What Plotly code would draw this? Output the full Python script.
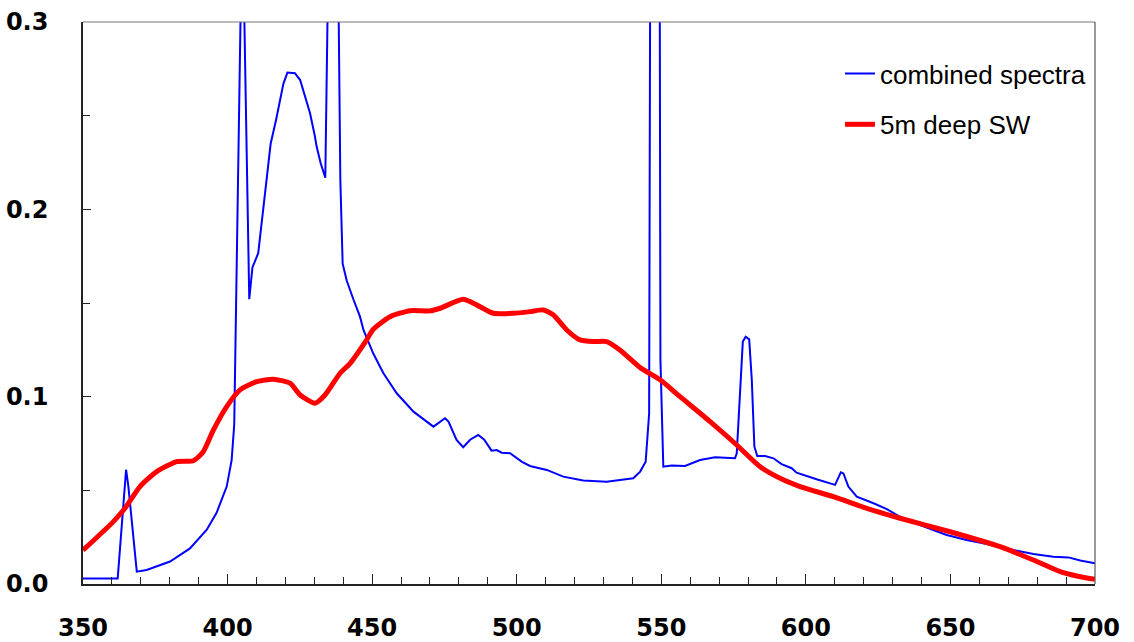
import plotly.graph_objects as go

# combined spectra (blue)
blue_x = [350, 362, 364.9, 365.7, 368.6, 372, 380.1, 387, 392.8, 396.2, 399.7, 401.4, 402.3,
          405.1, 407.5, 408.6, 410.6, 413.0, 414.9, 416.8, 419.3, 420.7, 423.3, 425.1, 427.4,
          428.5, 430.2, 430.8, 432.2, 433.8, 436.8, 439.0, 439.8, 441.2, 443.5, 445.8, 447.0,
          450.4, 453.9, 458.5, 464.3, 471.2, 475.2, 476.4, 479.2, 481.5, 483.9, 486.7, 488.7,
          491.3, 493.1, 494.8, 497.7, 501.7, 504.6, 510.4, 516.1, 523.0, 531.1, 536.9, 540.3,
          542.7, 544.6, 545.8, 546.5, 549.2, 549.7, 550.7, 553.6, 558.2, 563.4, 568.6, 575.5,
          576.1, 578.2, 579.2, 580.4, 581.3, 582.2, 583.2, 585.9, 588.8, 591.6, 595.1, 596.8,
          603.7, 610.1, 612.1, 613.0, 614.7, 617.6, 623.4, 628.0, 632.6, 639.5, 648.7, 655.6,
          662.6, 670.6, 678.7, 685.6, 690.8, 694.9, 700]
blue_y = [0.003, 0.003, 0.061, 0.052, 0.0066, 0.0075, 0.012, 0.019, 0.029, 0.038, 0.052, 0.066, 0.085,
          0.363, 0.152, 0.169, 0.1766, 0.210, 0.235, 0.248, 0.267, 0.273, 0.2727, 0.269, 0.2566,
          0.2514, 0.239, 0.2335, 0.2246, 0.2169, 0.55, 0.2157, 0.171, 0.162, 0.152, 0.1427, 0.1356,
          0.123, 0.1125, 0.1018, 0.092, 0.084, 0.0885, 0.0867, 0.0769, 0.073, 0.077, 0.0796, 0.0772,
          0.0712, 0.0715, 0.0701, 0.0698, 0.0653, 0.063, 0.0609, 0.0573, 0.0552, 0.0546, 0.0555, 0.0564,
          0.060, 0.0653, 0.091, 0.55, 0.55, 0.12, 0.0626, 0.0632, 0.063, 0.0662, 0.0676, 0.0671,
          0.0698, 0.1294, 0.132, 0.1306, 0.109, 0.0733, 0.0683, 0.0683, 0.0671, 0.064, 0.0618, 0.0594,
          0.0559, 0.0529, 0.0596, 0.059, 0.052, 0.0466, 0.0431, 0.040, 0.0359, 0.0315, 0.0262, 0.0235,
          0.0214, 0.0185, 0.016, 0.0146, 0.0142, 0.0125, 0.011]

# 5m deep SW (red)
red_x = [350, 360.5, 364.5, 369.7, 375.5, 382.4, 388.2, 391.6, 395.1, 399.7, 404.3, 410.1, 415.8,
         421.6, 425.1, 430.2, 433.7, 438.9, 442.4, 448.1, 450.4, 456.2, 463.1, 470.0, 473.5, 481.5,
         486.1, 491.9, 498.8, 504.6, 509.2, 512.7, 517.3, 521.9, 526.5, 531.1, 535.7, 542.7, 549.6,
         556.5, 566.9, 576.1, 584.2, 591.1, 598.0, 609.5, 621.1, 632.6, 649.9, 667.2, 678.7, 688.0,
         693.7, 700]
red_y = [0.018, 0.0333, 0.0404, 0.052, 0.060, 0.0653, 0.0658, 0.0706, 0.0822, 0.0947, 0.1036, 0.108, 0.1093,
         0.1072, 0.1009, 0.0965, 0.1009, 0.1125, 0.1178, 0.1303, 0.136, 0.1427, 0.1459, 0.1458, 0.1472, 0.152,
         0.149, 0.1445, 0.1445, 0.1454, 0.1463, 0.1436, 0.1356, 0.1303, 0.1294, 0.1294, 0.1249, 0.1155, 0.109,
         0.100, 0.0867, 0.0742, 0.0626, 0.0564, 0.052, 0.0466, 0.0404, 0.0351, 0.0279, 0.0199, 0.0128, 0.0066,
         0.0043, 0.0025]

x_ticks = [350, 400, 450, 500, 550, 600, 650, 700]
y_ticks = [0.0, 0.1, 0.2, 0.3]

fig = go.Figure()
fig.add_trace(go.Scatter(x=blue_x, y=blue_y, mode="lines", name="combined spectra",
                         legendgroup="a", line=dict(color="#0000FF", width=2)))
fig.add_trace(go.Scatter(x=red_x, y=red_y, mode="lines", name="5m deep SW",
                         legendgroup="b", line=dict(color="#FF0000", width=5, shape="spline", smoothing=0.6)))

tick_font = dict(family="DejaVu Sans", size=24, color="black", weight="bold")

fig.update_layout(
    width=1134, height=642,
    margin=dict(l=83, r=39, t=22, b=58, autoexpand=False),
    paper_bgcolor="white", plot_bgcolor="white",
    showlegend=True,
    legend=dict(x=0.748, y=0.95, xanchor="left", yanchor="top",
                font=dict(family="Arial, Liberation Sans", size=26, color="black"),
                bgcolor="rgba(0,0,0,0)", traceorder="grouped", tracegroupgap=14),
    xaxis=dict(range=[350, 700], tickvals=x_ticks, ticktext=[str(v) for v in x_ticks],
               ticks="inside", ticklen=10, tickwidth=1.2, tickcolor="#222", automargin=False,
               showline=True, linecolor="#222", linewidth=1.5, showgrid=False, zeroline=False,
               tickfont=tick_font, ticklabelstandoff=21,
               minor=dict(ticks="inside", dtick=10, tick0=350, ticklen=7, tickwidth=1.2, tickcolor="#222",
                          showgrid=False)),
    yaxis=dict(range=[0, 0.3], tickvals=y_ticks, ticktext=[f"{v:.1f}" for v in y_ticks],
               ticks="inside", ticklen=8, tickwidth=1.2, tickcolor="#222", automargin=False,
               showline=True, linecolor="#222", linewidth=1.5, showgrid=False, zeroline=False,
               tickfont=tick_font, ticklabelstandoff=28,
               minor=dict(ticks="inside", dtick=0.05, tick0=0, ticklen=7, tickwidth=1.2, tickcolor="#222",
                          showgrid=False)),
    shapes=[
        dict(type="line", xref="paper", yref="paper", x0=0, x1=1, y0=1, y1=1,
             line=dict(color="#777", width=1.2)),
        dict(type="line", xref="paper", yref="paper", x0=1, x1=1, y0=0, y1=1,
             line=dict(color="#555", width=1.2)),
    ],
)

fig.write_html("out.html", config={"displayModeBar": False},
               post_script="document.body.style.margin='0';")
